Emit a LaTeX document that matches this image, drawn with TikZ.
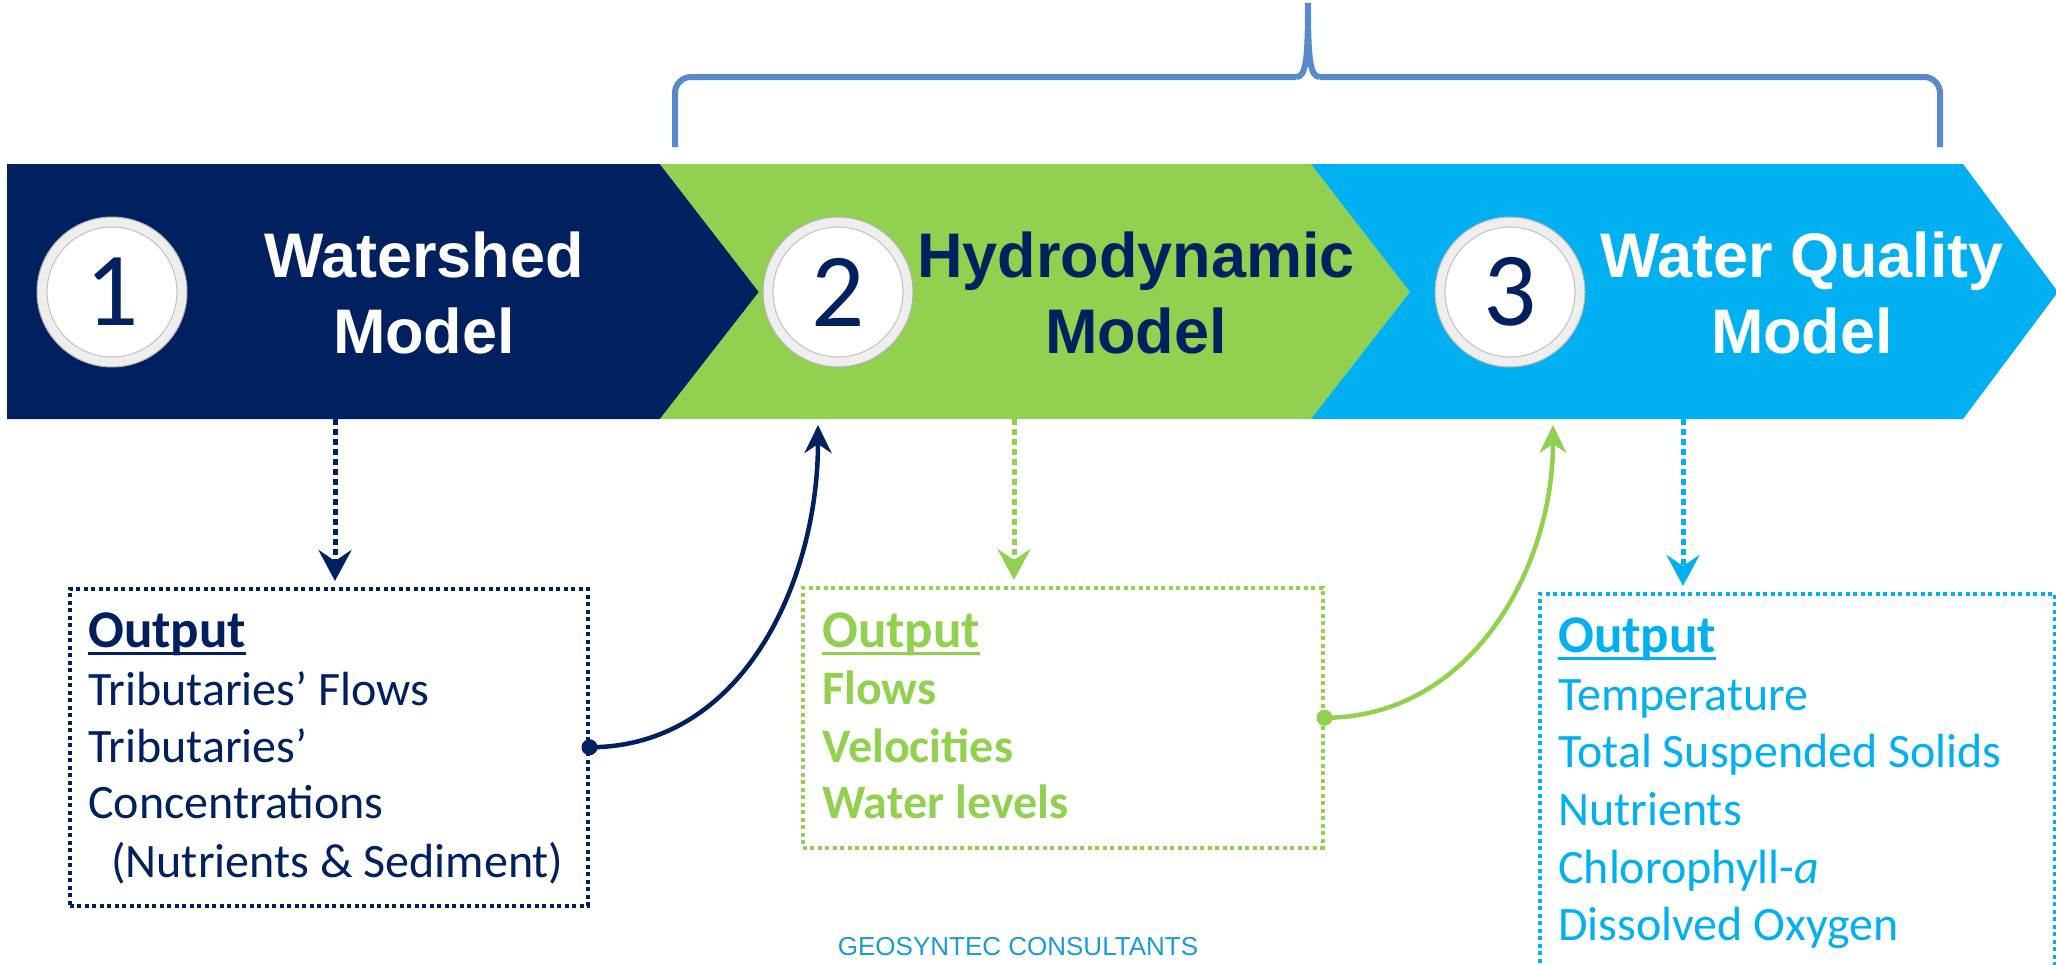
\documentclass[tikz,border=0pt]{standalone}
\usepackage{fontspec}
\setmainfont{Carlito}
\newfontfamily\headfont{Liberation Sans}
\usetikzlibrary{arrows.meta,positioning}
\definecolor{navy}{HTML}{002060}
\definecolor{leaf}{HTML}{92D050}
\definecolor{sky}{HTML}{00B0F0}
\definecolor{bracecol}{HTML}{5889CB}
\definecolor{geo}{HTML}{1A9BD7}
\pgfdeclareradialshading{rim}{\pgfpoint{0bp}{0bp}}{color(0bp)=(white); color(42bp)=(black!12); color(45bp)=(black!2); color(48bp)=(black!12); color(50bp)=(black!40)}
\pgfdeclareradialshading{face}{\pgfpoint{-6bp}{10bp}}{color(0bp)=(white); color(34bp)=(white); color(50bp)=(black!20)}
\newcommand{\outhead}[1]{\setbox0\hbox{#1}\rlap{\rule[-8pt]{\wd0}{3.5pt}}\box0}
\begin{document}
\begin{tikzpicture}[x=1pt, y=-1pt, >={Stealth[length=28pt,width=27pt,inset=9pt]}]
\tikzstyle{numc}=[circle, minimum size=150pt, inner sep=0pt, draw=black!30, line width=1pt,
  shading=rim, text=navy, font=\fontsize{105}{105}\selectfont,
  path picture={\shade[shading=face] (path picture bounding box.center) circle (65pt);
    \draw[black!22, line width=1.2pt] (path picture bounding box.center) circle (65pt);}]
\tikzstyle{mtitle}=[align=center, inner sep=0pt, font=\headfont\bfseries\fontsize{63}{76}\selectfont]
\tikzstyle{obox}=[draw, line width=3.5pt, dash pattern=on 4pt off 3.5pt, anchor=north west, inner sep=0pt]
\tikzstyle{outl}=[anchor=base west, inner sep=0pt, font=\fontsize{48}{57}\selectfont]
\tikzstyle{ohead}=[outl, font=\bfseries\fontsize{53}{57}\selectfont]
\tikzstyle{dropar}=[-{Stealth[length=31pt,width=33pt,inset=11pt]}, line width=5pt, dash pattern=on 6pt off 4pt, shorten >=6pt]
\tikzstyle{feedar}=[->, line width=4.5pt]
\useasboundingbox (0,0) rectangle (2056,964);
%
\draw[bracecol, line width=6pt, rounded corners=16pt] (675,147) -- (675,77) -- (1296,77);
\draw[bracecol, line width=6pt] (1296,77)
  .. controls (1306,77) and (1308,60) .. (1308,3) .. controls (1308,60) and (1310,77) .. (1320,77);
\draw[bracecol, line width=6pt, rounded corners=16pt] (1320,77) -- (1940,77) -- (1940,147);
%
\fill[navy] (7,164) -- (660,164) -- (759,292) -- (660,419) -- (7,419) -- cycle;
\fill[leaf] (660,164) -- (1311,164) -- (1410,292) -- (1311,419) -- (660,419) -- (759,292) -- cycle;
\fill[sky] (1311,164) -- (1963,164) -- (2058,292) -- (1963,419) -- (1311,419) -- (1410,292) -- cycle;
\coordinate (s1) at (335,419);
\coordinate (s2) at (1014,419);
\coordinate (s3) at (1683,419);
\coordinate (e2) at (818,425);
\coordinate (e3) at (1553,425);
%
\node[numc](n1) at (112,292) {1};
\node[numc](n2) at (838,292) {2};
\node[numc](n3) at (1510,292) {3};
\node[mtitle, text=white](t1) at (424,293) {Watershed\\Model};
\node[mtitle, text=navy](t2) at (1136,293) {Hydrodynamic\\Model};
\node[mtitle, text=white](t3) at (1802,293) {Water Quality\\Model};
%
\node[obox, draw=navy, minimum width=518pt, minimum height=317pt](out1) at (68,587) {};
\node[obox, draw=leaf, minimum width=520pt, minimum height=260pt](out2) at (801,586) {};
\node[obox, draw=sky, minimum width=515pt, minimum height=420pt](out3) at (1538,592) {};
%
\node[ohead, text=navy](o10) at (88,647) {\outhead{Output}};
\node[outl, text=navy](o11) at (88,705) {Tributaries’ Flows};
\node[outl, text=navy](o12) at (88,762) {Tributaries’};
\node[outl, text=navy](o13) at (88,818) {Concentrations};
\node[outl, text=navy](o14) at (111,877) {(Nutrients \& Sediment)};
%
\node[ohead, text=leaf](o20) at (822,647) {\outhead{Output}};
\node[outl, text=leaf, font=\bfseries\fontsize{48}{57}\selectfont](o21) at (822,704) {Flows};
\node[outl, text=leaf, font=\bfseries\fontsize{48}{57}\selectfont](o22) at (822,762) {Velocities};
\node[outl, text=leaf, font=\bfseries\fontsize{48}{57}\selectfont](o23) at (822,818) {Water levels};
%
\node[ohead, text=sky](o30) at (1558,652) {\outhead{Output}};
\node[outl, text=sky](o31) at (1558,710) {Temperature};
\node[outl, text=sky](o32) at (1558,767) {Total Suspended Solids};
\node[outl, text=sky](o33) at (1558,825) {Nutrients};
\node[outl, text=sky](o34) at (1558,883) {Chlorophyll-\textit{a}};
\node[outl, text=sky](o35) at (1558,940) {Dissolved Oxygen};
%
\node[anchor=base, inner sep=0pt, text=geo, font=\headfont\fontsize{26}{26}\selectfont](geo) at (1018,955) {GEOSYNTEC CONSULTANTS};
%
\draw[dropar, navy] (s1) -- (s1 |- out1.north);
\draw[dropar, leaf] (s2) -- (s2 |- out2.north);
\draw[dropar, sky] (s3) -- (s3 |- out3.north);
\fill[navy] (out1.east) circle (8pt);
\fill[leaf] (out2.east) circle (8pt);
\draw[feedar, navy] (out1.east) to[out=0,in=-90] (e2);
\draw[feedar, leaf] (out2.east) to[out=0,in=-90] (e3);
\end{tikzpicture}
\end{document}
